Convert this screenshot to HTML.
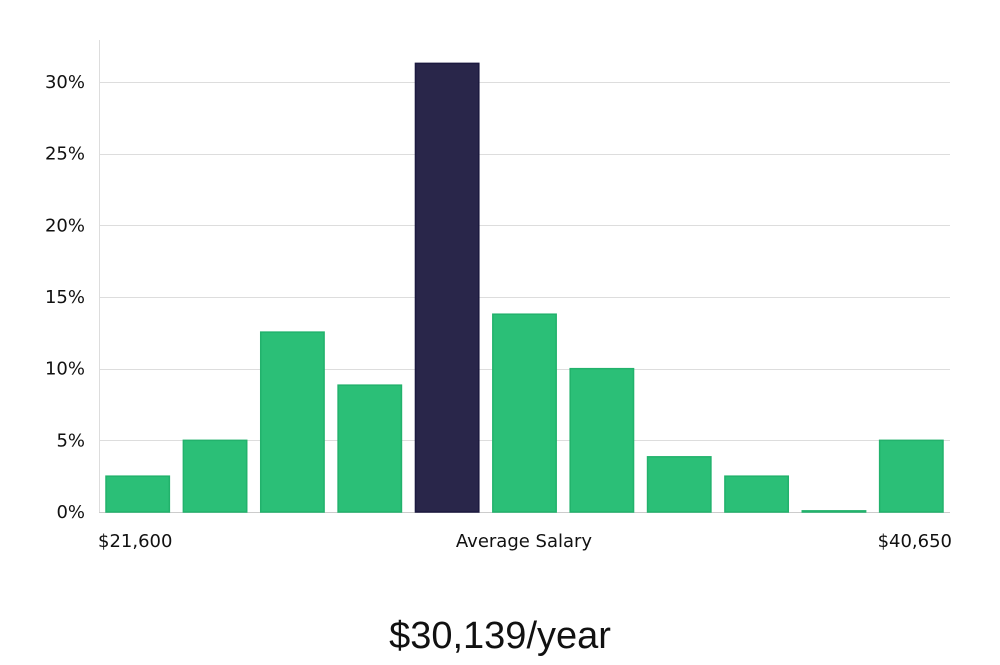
<!DOCTYPE html>
<html><head><meta charset="utf-8"><style>
html,body{margin:0;padding:0;background:#fff;}
svg text{font-family:"DejaVu Sans","Liberation Sans",sans-serif;}
</style></head><body>
<svg width="1000" height="660" viewBox="0 0 1000 660" xmlns="http://www.w3.org/2000/svg">
<g id="grid"></g>
<g id="yticks"></g>
<line x1="99.5" y1="40" x2="99.5" y2="512" stroke="#ddd" stroke-width="1"/>
<g id="bars"></g>
<text x="98" y="547" font-size="18" fill="#111">$21,600</text>
<text x="524" y="547" font-size="18" fill="#111" text-anchor="middle">Average Salary</text>
<text x="952" y="547" font-size="18" fill="#111" text-anchor="end">$40,650</text>
<text x="500" y="648" font-size="38" fill="#111" text-anchor="middle" style="font-family:'Liberation Sans',sans-serif;font-weight:300">$30,139/year</text>
</svg>
<script>
const categories=["b1","b2","b3","b4","b5","b6","b7","b8","b9","b10","b11"];
const values=[2.5,5.0,12.55,8.85,31.3,13.8,10.0,3.85,2.5,0.08,5.0];
const highlight=[false,false,false,false,true,false,false,false,false,false,false];
const yTicks=[0,5,10,15,20,25,30];
const yTickLabels=["0%","5%","10%","15%","20%","25%","30%"];
const NS="http://www.w3.org/2000/svg";
const left=99,right=950,y0=512,y30=82;
function yScale(v){return y0-(y0-y30)*v/30;}
const band=(right-left)/categories.length;
function xScale(i){return left+band*i+7;}
const grid=document.getElementById('grid'),yt=document.getElementById('yticks'),bars=document.getElementById('bars');
yTicks.forEach((t,i)=>{
 const y=Math.round(yScale(t))+0.5;
 const l=document.createElementNS(NS,'line');
 
 
 l.setAttribute('x1',left);l.setAttribute('x2',right);l.setAttribute('y1',y);l.setAttribute('y2',y);
 l.setAttribute('stroke',t===0?'#ccc':'#ddd');l.setAttribute('stroke-width','1');
 grid.appendChild(l);
 const tx=document.createElementNS(NS,'text');
 
 
 tx.setAttribute('x',85);tx.setAttribute('y',yScale(t)+6);tx.setAttribute('text-anchor','end');
 tx.setAttribute('font-size','18');tx.setAttribute('fill','#111');
 tx.textContent=yTickLabels[i];
 yt.appendChild(tx);
});
values.forEach((v,i)=>{
 const r=document.createElementNS(NS,'rect');
 
 
 const y=yScale(v);
 r.setAttribute('x',xScale(i));r.setAttribute('y',y);
 r.setAttribute('width',band-14);r.setAttribute('height',Math.max(1,y0-y));
 r.setAttribute('fill',highlight[i]?'#29264a':'#2bbf77');
 r.setAttribute('stroke',highlight[i]?'#1c1940':'#22b26c');r.setAttribute('stroke-width','1.5');
 bars.appendChild(r);
});
</script>
</body></html>
